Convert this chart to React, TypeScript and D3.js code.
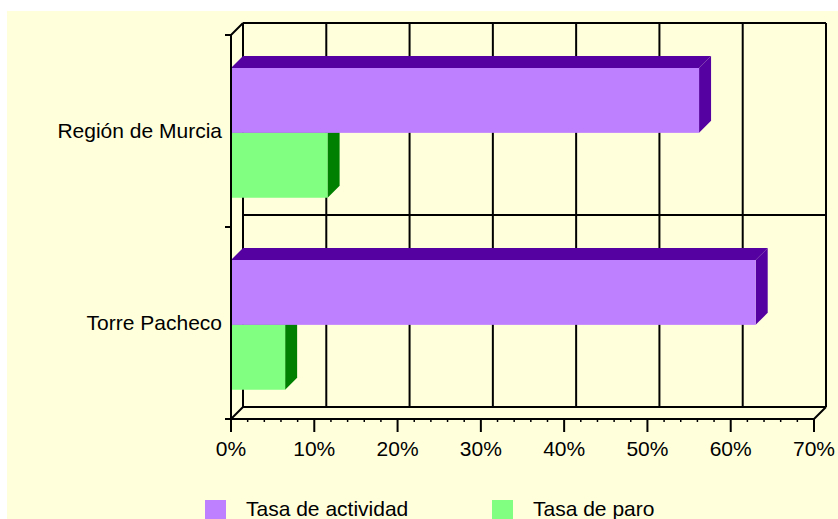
import { useEffect, useRef } from 'react';
import * as d3 from 'd3';

const categories = ['Región de Murcia', 'Torre Pacheco'];
const seriesNames = ['Tasa de actividad', 'Tasa de paro'];
const actividad = [0.562, 0.63];
const paro = [0.116, 0.065];
const xTicks = [0, 0.1, 0.2, 0.3, 0.4, 0.5, 0.6, 0.7];

const FRONT = ['#bf80ff', '#80ff80'];
const DARK = ['#5500a0', '#008000'];
const FONT = '"Liberation Sans", Arial, sans-serif';

export default function App() {
  const svgRef = useRef<SVGSVGElement>(null);

  useEffect(() => {
    if (!svgRef.current) return;
    const W = 838, H = 519;
    const dx = 12, dy = -12;
    const left = 231, right = 814, top = 35, bottom = 419;

    const svg = d3.select(svgRef.current);
    svg.selectAll('*').remove();
    svg.attr('width', W).attr('height', H);

    svg.append('rect').attr('x', 7).attr('y', 11).attr('width', W - 7).attr('height', H - 11)
      .attr('fill', '#ffffdc');

    const x = d3.scaleLinear().domain([0, 0.7]).range([left, right]);
    const y = d3.scaleBand().domain(categories).range([top, bottom]);
    const ys = d3.scaleBand().domain(seriesNames).range([0, y.bandwidth()])
      .paddingOuter(0.48).align(0.53);

    const g = svg.append('g');
    const line = (x1: number, y1: number, x2: number, y2: number, w = 2) =>
      g.append('line').attr('x1', x1).attr('y1', y1).attr('x2', x2).attr('y2', y2)
        .attr('stroke', '#000').attr('stroke-width', w);

    // back wall gridlines
    xTicks.forEach(t => line(x(t) + dx, top + dy, x(t) + dx, bottom + dy));
    line(left + dx, top + dy, right + dx, top + dy);
    const mid = (y(categories[1]) || 0);
    line(left + dx, mid + dy, right + dx, mid + dy);
    line(left + dx, bottom + dy, right + dx, bottom + dy);

    // floor / edges
    line(left, top, left + dx, top + dy);
    line(left, bottom, left + dx, bottom + dy);
    line(right, bottom, right + dx, bottom + dy);

    // bars
    const series = [actividad, paro];
    categories.forEach((c, ci) => {
      [1, 0].forEach(si => {
        const y0 = (y(c) || 0) + (ys(seriesNames[si]) || 0);
        const y1 = y0 + ys.bandwidth();
        const x0 = x(0);
        const x1 = x(series[si][ci]);
        const pts = (p: number[][]) => p.map(d => d.join(',')).join(' ');
        g.append('polygon').attr('fill', DARK[si])
          .attr('points', pts([[x0, y0], [x0 + dx, y0 + dy], [x1 + dx, y0 + dy], [x1, y0]]));
        g.append('polygon').attr('fill', DARK[si])
          .attr('points', pts([[x1, y0], [x1 + dx, y0 + dy], [x1 + dx, y1 + dy], [x1, y1]]));
        g.append('rect').attr('x', x0).attr('y', y0).attr('width', x1 - x0).attr('height', y1 - y0)
          .attr('fill', FRONT[si]);
      });
    });

    // front axes
    line(left, top, left, bottom);
    line(left, bottom, right, bottom);
    [top, mid, bottom].forEach(v => line(left - 6, v, left, v));
    d3.range(0, 71, 2).forEach(p => {
      if (p % 10 !== 0) line(x(p / 100), bottom, x(p / 100), bottom + 3, 1.5);
    });
    xTicks.forEach(t => line(x(t), bottom, x(t), bottom + 13));

    g.selectAll('.xl').data(xTicks).enter().append('text')
      .attr('x', d => x(d)).attr('y', 456).attr('text-anchor', 'middle')
      .attr('font-family', FONT).attr('font-size', 21).attr('fill', '#000')
      .text(d => `${Math.round(d * 100)}%`);

    g.selectAll('.yl').data(categories).enter().append('text')
      .attr('x', 222).attr('y', d => (y(d) || 0) + y.bandwidth() / 2 + 7)
      .attr('text-anchor', 'end')
      .attr('font-family', FONT).attr('font-size', 21).attr('fill', '#000')
      .text(d => d);

    // legend
    const legX = [205, 492];
    seriesNames.forEach((s, i) => {
      g.append('rect').attr('x', legX[i]).attr('y', 500).attr('width', 21).attr('height', 21)
        .attr('fill', FRONT[i]);
      g.append('text').attr('x', legX[i] + 41).attr('y', 516)
        .attr('font-family', FONT).attr('font-size', 21).attr('fill', '#000').text(s);
    });
  }, []);

  return <svg ref={svgRef} style={{ position: 'absolute', left: 0, top: 0 }} />;
}
